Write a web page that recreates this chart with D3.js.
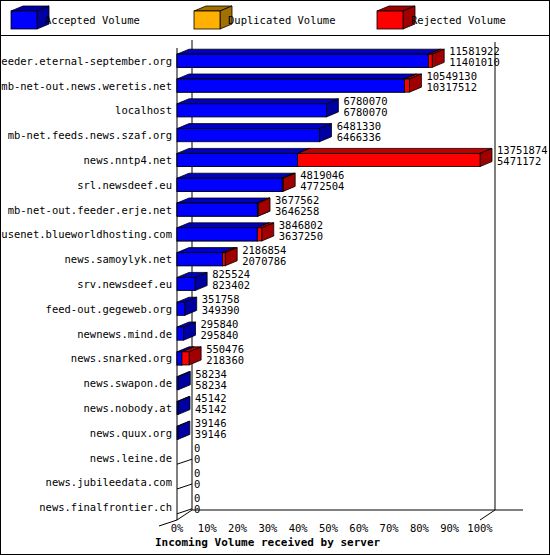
<!DOCTYPE html>
<html><head><meta charset="utf-8">
<script src="https://cdn.jsdelivr.net/npm/d3@7"></script>
<style>body{margin:0;background:#fff}text{font-family:"DejaVu Sans Mono",monospace;font-size:10.5px}</style>
</head><body><svg id="c" width="550" height="555"></svg>
<script>
const servers = ["feeder.eternal-september.org","mb-net-out.news.weretis.net","localhost","mb-net.feeds.news.szaf.org","news.nntp4.net","srl.newsdeef.eu","mb-net-out.feeder.erje.net","usenet.blueworldhosting.com","news.samoylyk.net","srv.newsdeef.eu","feed-out.gegeweb.org","newnews.mind.de","news.snarked.org","news.swapon.de","news.nobody.at","news.quux.org","news.leine.de","news.jubileedata.com","news.finalfrontier.ch"];
const offered = [11581922,10549130,6780070,6481330,13751874,4819046,3677562,3846802,2186854,825524,351758,295840,550476,58234,45142,39146,0,0,0];
const accepted = [11401010,10317512,6780070,6466336,5471172,4772504,3646258,3637250,2070786,823402,349390,295840,218360,58234,45142,39146,0,0,0];
const duplicated = servers.map(() => 0);
const ticks = d3.range(0, 101, 10);

const svg = d3.select("#c");
const W = 550, H = 555;
const x0 = 177, x1 = 480, yTop = 40, yBot = 520, dx = 15, dy = 10, bdx = 12, bdy = 5;
const x = d3.scaleLinear().domain([0, d3.max(offered)]).range([x0, x1]);
const pct = d3.scaleLinear().domain([0, 100]).range([x0, x1]);
const y = d3.scaleBand().domain(servers).range([yTop + 8, yBot]).paddingInner(0.47).paddingOuter(0.25);

svg.append("rect").attr("x", 0.5).attr("y", 0.5).attr("width", W - 1).attr("height", H - 1).attr("fill", "none").attr("stroke", "#000");
svg.append("line").attr("x1", 0).attr("x2", W).attr("y1", 35.5).attr("y2", 35.5).attr("stroke", "#000");

// 3D box helper
function box(g, xa, xb, yt, h, front, side, topc) {
  if (xb - xa < 0) return;
  g.append("path").attr("d", `M${xa},${yt}L${xa + bdx},${yt - bdy}L${xb + bdx},${yt - bdy}L${xb},${yt}Z`).attr("fill", topc).attr("stroke", "#000").attr("stroke-width", 0.8);
  g.append("path").attr("d", `M${xb},${yt}L${xb + bdx},${yt - bdy}L${xb + bdx},${yt + h - bdy}L${xb},${yt + h}Z`).attr("fill", side).attr("stroke", "#000").attr("stroke-width", 0.8);
  g.append("rect").attr("x", xa).attr("y", yt).attr("width", xb - xa).attr("height", h).attr("fill", front).attr("stroke", "#000").attr("stroke-width", 0.8);
}

// legend
const legend = [["Accepted Volume", "#0000ff", "#0000a0"], ["Duplicated Volume", "#ffb000", "#a07000"], ["Rejected Volume", "#ff0000", "#a00000"]];
legend.forEach((l, i) => {
  const lx = 11 + i * 183;
  box(svg, lx, lx + 26, 11, 18, l[1], l[2], l[2]);
  svg.append("text").attr("x", 45 + i * 183).attr("y", 24).text(l[0]);
});

// walls
const wall = svg.append("g").attr("stroke", "#000").attr("fill", "none");
wall.append("path").attr("d", `M${x0 + dx},${yTop}V${yBot - dy}H${x1 + dx + 28}`);
wall.append("path").attr("d", `M${x1 + dx},${yTop + 2}V${yBot - dy}L${x1},${yBot}`);
wall.append("path").attr("d", `M${x0},${yTop + 8}V${yBot}L${x0 - 18},${yBot + 6}M${x0},${yBot}L${x0 + dx},${yBot - dy}`);

svg.append("g").selectAll("text").data(ticks).join("text")
  .attr("x", d => pct(d)).attr("y", 532).attr("text-anchor", "middle").text(d => d + "%");
svg.append("text").attr("x", 155).attr("y", 546).style("font-weight", "bold").style("font-size", "11px").text("Incoming Volume received by server");

servers.forEach((s, i) => {
  const g = svg.append("g");
  const yt = y(s), h = y.bandwidth();
  g.append("text").attr("x", 172).attr("y", yt + h / 2 + 4).attr("text-anchor", "end").text(s);
  if (offered[i] === 0) {
    g.append("path").attr("d", `M${x0},${yt + h}L${x0 + bdx + 3},${yt + h - bdy}`).attr("stroke", "#000");
  } else {
    const xa = x(accepted[i]), xr = x(offered[i]);
    if (xr > xa + 0.5) {
      box(g, x0, xa, yt, h, "#0000ff", "#0000a0", "#0000c0");
      box(g, xa, xr, yt, h, "#ff0000", "#a00000", "#c00000");
      g.append("rect").attr("x", x0).attr("y", yt).attr("width", xa - x0).attr("height", h).attr("fill", "#0000ff").attr("stroke", "#000").attr("stroke-width", 0.8);
    } else {
      box(g, x0, xa, yt, h, "#0000ff", "#0000a0", "#0000c0");
    }
  }
  const lx = x(offered[i]) + bdx + 5;
  g.append("text").attr("x", lx).attr("y", yt + 1).text(offered[i]);
  g.append("text").attr("x", lx).attr("y", yt + 12).text(accepted[i]);
});
</script></body></html>
